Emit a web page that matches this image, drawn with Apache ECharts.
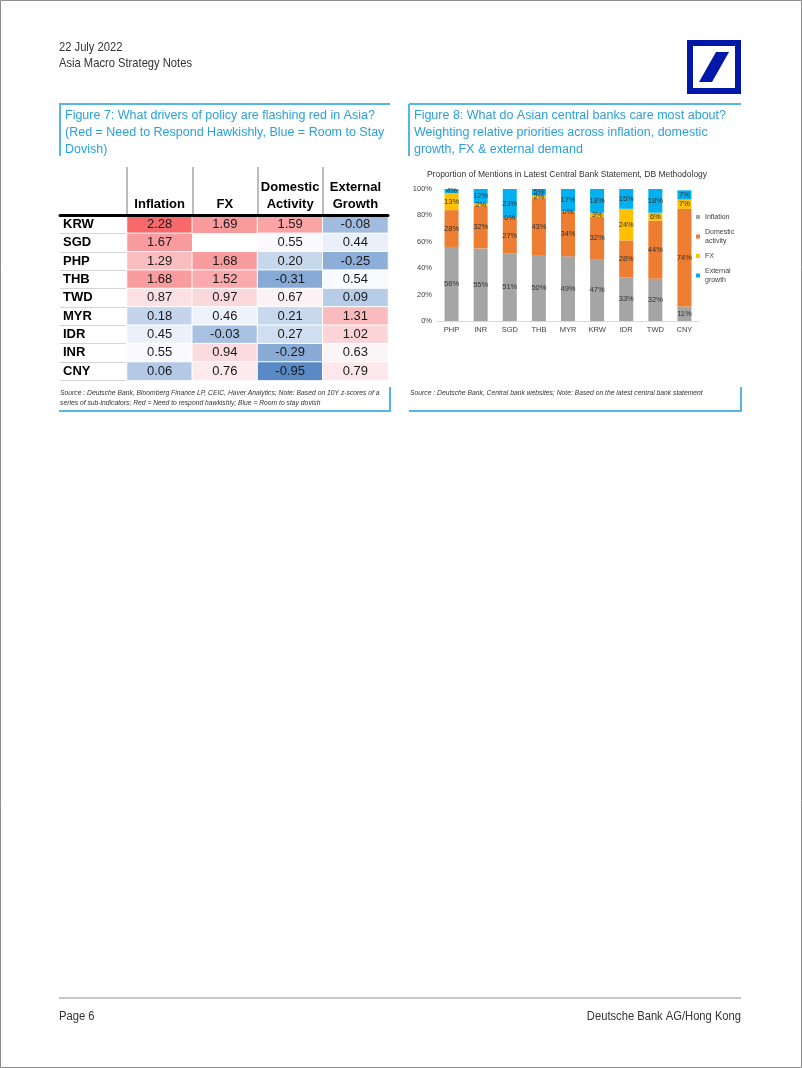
<!DOCTYPE html>
<html>
<head>
<meta charset="utf-8">
<script src="https://cdn.jsdelivr.net/npm/echarts@6/dist/echarts.min.js"></script>
<style>
html,body{margin:0;padding:0;background:#fff;}
#main{width:802px;height:1068px;}
</style>
</head>
<body>
<div id="main"></div>
<script>
// ---------- DATA ----------
const rowLabels = ['KRW','SGD','PHP','THB','TWD','MYR','IDR','INR','CNY'];
const colLabels = ['Inflation','FX','Domestic\nActivity','External\nGrowth'];
const inflationZ = [2.28,1.67,1.29,1.68,0.87,0.18,0.45,0.55,0.06];
const fxZ        = [1.69,null,1.68,1.52,0.97,0.46,-0.03,0.94,0.76];
const domesticZ  = [1.59,0.55,0.20,-0.31,0.67,0.21,0.27,-0.29,-0.95];
const externalZ  = [-0.08,0.44,-0.25,0.54,0.09,1.31,1.02,0.63,0.79];

const barCategories = ['PHP','INR','SGD','THB','MYR','KRW','IDR','TWD','CNY'];
const inflationPct = [56,55,51,50,49,47,33,32,11];
const domesticPct  = [28,32,27,43,34,32,28,44,74];
const fxPct        = [13,2,0,2,0,3,24,6,7];
const externalPct  = [4,12,23,5,17,18,15,18,7];
const seriesNames = ['Inflation','Domestic activity','FX','External growth'];
const seriesColors = ['#A5A5A5','#ED7D31','#FFC000','#00B0F0'];

// ---------- helpers ----------
const FONT = '"Liberation Sans", Arial, sans-serif';
const BLUE_TXT = '#2AA0DA';
const BOX = '#55B6E6';

const heatData = [];
[inflationZ, fxZ, domesticZ, externalZ].forEach((arr, c) => {
  arr.forEach((v, r) => { if (v !== null) heatData.push([c, r, v]); });
});
const allVals = heatData.map(d => d[2]).sort((a,b)=>a-b);
const vMin = allVals[0], vMax = allVals[allVals.length-1];
const vMid = allVals[Math.floor(allVals.length/2)];
function hex2rgb(h){return [1,3,5].map(i=>parseInt(h.substr(i,2),16));}
function lerp(a,b,t){const A=hex2rgb(a),B=hex2rgb(b);return 'rgb('+A.map((x,i)=>Math.round(x+(B[i]-x)*t)).join(',')+')';}
const LOW='#5A8AC6', MID='#FCFCFF', HIGH='#F8696B';
const stops=[];
const N=64;
for(let i=0;i<=N;i++){
  const v=vMin+(vMax-vMin)*i/N;
  stops.push(v<=vMid ? lerp(LOW,MID,Math.pow((v-vMin)/(vMid-vMin),1.5)) : lerp(MID,HIGH,(v-vMid)/(vMax-vMid)));
}

function txt(x,y,text,font,fill,align,sx){
  return {type:'text',x:x,y:y,scaleX:sx||1,silent:true,style:{text:text,font:font,fill:fill||'#333',align:align||'left',verticalAlign:'middle'}};
}
function ln(x1,y1,x2,y2,stroke,w){
  return {type:'line',silent:true,shape:{x1:x1,y1:y1,x2:x2,y2:y2},style:{stroke:stroke,lineWidth:w||1}};
}

const graphics = [
  {type:'rect',silent:true,shape:{x:0.5,y:0.5,width:801,height:1067},style:{fill:null,stroke:'#8c8c8c',lineWidth:1}},
  txt(59,47,'22 July 2022','13px '+FONT,'#333','left',0.86),
  txt(59,63,'Asia Macro Strategy Notes','13px '+FONT,'#333','left',0.86),
  // logo
  {type:'rect',silent:true,shape:{x:687,y:40,width:54,height:54},style:{fill:'#0018A8'}},
  {type:'rect',silent:true,shape:{x:693,y:46,width:42,height:42},style:{fill:'#fff'}},
  {type:'polygon',silent:true,shape:{points:[[716,52],[729,52],[712,82],[699,82]]},style:{fill:'#0018A8'}},
  // figure 7 box
  ln(59,104,390,104,BOX,2), ln(60,104,60,156,BOX,2),
  txt(65,116,'Figure 7: What drivers of policy are flashing red in Asia?','12.5px '+FONT,BLUE_TXT),
  txt(65,133,'(Red = Need to Respond Hawkishly, Blue = Room to Stay','12.5px '+FONT,BLUE_TXT),
  txt(65,150,'Dovish)','12.5px '+FONT,BLUE_TXT),
  // figure 8 box
  ln(409,104,741,104,BOX,2), ln(409,104,409,156,BOX,2),
  txt(414,116,'Figure 8: What do Asian central banks care most about?','12.5px '+FONT,BLUE_TXT),
  txt(414,133,'Weighting relative priorities across inflation, domestic','12.5px '+FONT,BLUE_TXT),
  txt(414,150,'growth, FX & external demand','12.5px '+FONT,BLUE_TXT),
  // chart title
  txt(567,175,'Proportion of Mentions in Latest Central Bank Statement, DB Methodology','8.5px '+FONT,'#333','center'),
  // sources
  txt(60,393,'Source : Deutsche Bank, Bloomberg Finance LP, CEIC, Haver Analytics; Note: Based on 10Y z-scores of a','italic 7.5px '+FONT,'#333','left',0.9),
  txt(60,403,'series of sub-indicators; Red = Need to respond hawkishly; Blue = Room to stay dovish','italic 7.5px '+FONT,'#333','left',0.9),
  txt(410,393,'Source : Deutsche Bank, Central bank websites; Note: Based on the latest central bank statement','italic 7.5px '+FONT,'#333','left',0.9),
  ln(59,411,391,411,BOX,2), ln(390,387,390,411,BOX,2),
  ln(409,411,742,411,BOX,2), ln(741,387,741,411,BOX,2),
  // footer
  ln(59,998,741,998,'#c8c8c8',2),
  txt(59,1016,'Page 6','13px '+FONT,'#333','left',0.86),
  txt(741,1016,'Deutsche Bank AG/Hong Kong','13px '+FONT,'#333','right',0.86)
];

const option = {
  animation:false,
  backgroundColor:'#fff',
  textStyle:{fontFamily:FONT},
  graphic: graphics,
  grid:[
    {left:127, top:215, width:261, height:165.4},   // heatmap
    {left:60, top:215, width:328, height:165.4},    // table frame
    {left:127, top:167, width:261, height:48},      // header separators
    {left:437, top:189, width:262, height:132}      // bar chart
  ],
  xAxis:[
    {type:'category', gridIndex:0, data:colLabels, position:'top',
     axisLine:{show:false}, axisTick:{show:false}, splitLine:{show:false},
     axisLabel:{interval:0, margin:2, fontSize:13, fontWeight:'bold', color:'#000', lineHeight:17, fontFamily:FONT}},
    {type:'value', gridIndex:1, position:'top', min:0, max:1, z:10,
     axisLine:{show:true, lineStyle:{color:'#000', width:3}}, axisTick:{show:false}, axisLabel:{show:false}, splitLine:{show:false}},
    {type:'category', gridIndex:2, data:colLabels,
     axisLine:{show:false}, axisTick:{show:false}, axisLabel:{show:false},
     splitLine:{show:true, interval:0, showMaxLine:false, lineStyle:{color:'#a6a6a6', width:1.5}}},
    {type:'category', gridIndex:3, data:barCategories,
     axisLine:{show:true, lineStyle:{color:'#d9d9d9'}}, axisTick:{show:false},
     axisLabel:{interval:0, margin:5, fontSize:7.5, color:'#404040', fontFamily:FONT}}
  ],
  yAxis:[
    {type:'category', gridIndex:0, data:rowLabels, inverse:true,
     axisLine:{show:false}, axisTick:{show:false}, splitLine:{show:false},
     axisLabel:{align:'left', margin:64, fontSize:13, fontWeight:'bold', color:'#000', fontFamily:FONT}},
    {type:'category', gridIndex:1, data:rowLabels, inverse:true,
     axisLine:{show:false}, axisTick:{show:false}, axisLabel:{show:false},
     splitLine:{show:true, interval:0, showMinLine:false, lineStyle:{color:'#d4d4d4', width:1}}},
    {type:'value', gridIndex:2, show:false},
    {type:'value', gridIndex:3, min:0, max:100, interval:20,
     axisLine:{show:false}, axisTick:{show:false}, splitLine:{show:false},
     axisLabel:{margin:5, fontSize:7.5, color:'#404040', formatter:'{value}%', fontFamily:FONT}}
  ],
  visualMap:{type:'continuous', show:false, seriesIndex:0, dimension:2, min:vMin, max:vMax, inRange:{color:stops}},
  legend:{
    orient:'vertical', left:696, top:212.5, padding:0, itemWidth:4, itemHeight:4, itemGap:6, icon:'rect',
    data:seriesNames,
    formatter: n => n.replace(' ', '\n'),
    textStyle:{fontSize:7, color:'#404040', lineHeight:9, fontFamily:FONT}
  },
  series:[
    {type:'heatmap', xAxisIndex:0, yAxisIndex:0, data:heatData,
     itemStyle:{borderColor:'#fff', borderWidth:1},
     label:{show:true, fontSize:13, color:'#1a1a1a', fontFamily:FONT, formatter:p=>p.value[2].toFixed(2)},
     emphasis:{disabled:true}}
  ].concat([inflationPct, domesticPct, fxPct, externalPct].map((arr,i)=>({
    type:'bar', name:seriesNames[i], xAxisIndex:3, yAxisIndex:3, stack:'total', data:arr,
    barWidth:14, itemStyle:{color:seriesColors[i]},
    label:{show:true, position:'inside', formatter:'{c}%', fontSize:7.5, color:'#333', fontFamily:FONT},
    emphasis:{disabled:true}
  })))
};

const chart = echarts.init(document.getElementById('main'), null, {renderer:'canvas'});
chart.setOption(option);
</script>
</body>
</html>
